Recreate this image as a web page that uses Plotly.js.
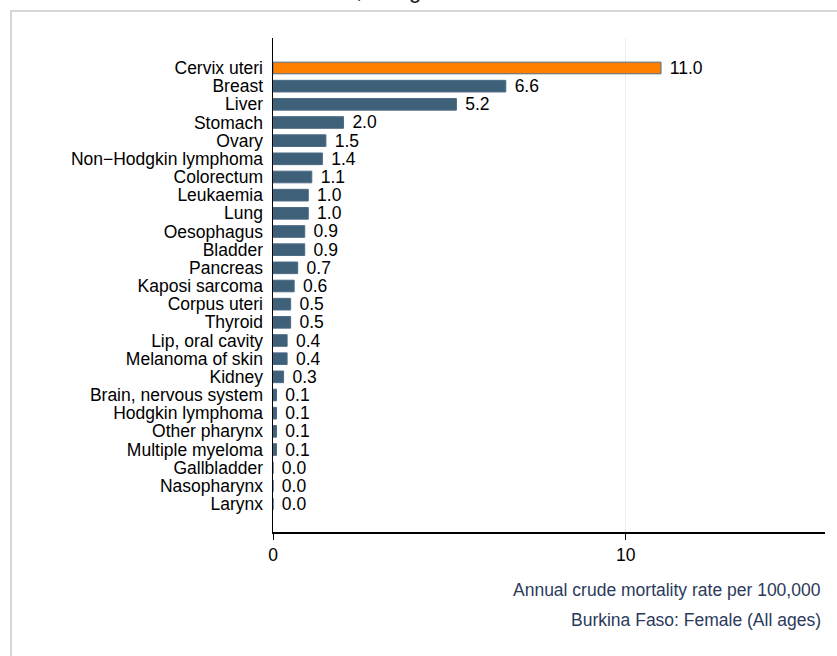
<!DOCTYPE html>
<html>
<head>
<meta charset="utf-8">
<script src="https://cdn.plot.ly/plotly-3.0.1.min.js"></script>
<style>html,body{margin:0;padding:0;background:#fff;}#chart{width:837px;height:656px;}</style>
</head>
<body>
<div id="chart"></div>
<script>
const categories = ["Cervix uteri","Breast","Liver","Stomach","Ovary","Non\u2212Hodgkin lymphoma","Colorectum","Leukaemia","Lung","Oesophagus","Bladder","Pancreas","Kaposi sarcoma","Corpus uteri","Thyroid","Lip, oral cavity","Melanoma of skin","Kidney","Brain, nervous system","Hodgkin lymphoma","Other pharynx","Multiple myeloma","Gallbladder","Nasopharynx","Larynx"];
const values = [11.0,6.6,5.2,2.0,1.5,1.4,1.1,1.0,1.0,0.9,0.9,0.7,0.6,0.5,0.5,0.4,0.4,0.3,0.1,0.1,0.1,0.1,0.0,0.0,0.0];
const highlight = "Cervix uteri";
const xTicks = [0, 10];
const titleText = "Females, all ages in Burkina Faso";
const axisLabel = "Annual crude mortality rate per 100,000";
const subLabel = "Burkina Faso: Female (All ages)";

const L = 273, R = 12, T = 38, B = 124, W = 837, H = 656;
const pw = W - L - R, ph = H - T - B;
const px2x = p => (p - L) / pw;
const py2y = p => 1 - (p - T) / ph;
const FONT = "Liberation Sans, Arial, sans-serif";

const colors = categories.map(c => c === highlight ? "#ff8000" : "#3e6079");
const trace = {
  type: "bar",
  orientation: "h",
  y: categories,
  x: values,
  width: 0.64,
  marker: {color: colors, line: {color: "#4d6b85", width: 1}},
  text: values.map(v => "\u2004" + v.toFixed(1)),
  textposition: "outside",
  constraintext: "none",
  cliponaxis: false,
  textfont: {family: FONT, size: 17.5, color: "#000"},
  hoverinfo: "skip"
};

const layout = {
  width: W, height: H,
  margin: {l: L, r: R, t: T, b: B, pad: 0},
  paper_bgcolor: "#fff", plot_bgcolor: "#fff",
  showlegend: false,
  font: {family: FONT, size: 17.5, color: "#000"},
  xaxis: {
    range: [0, 15.65],
    tickmode: "array",
    tickvals: xTicks,
    ticktext: xTicks.map(String),
    showgrid: true, gridcolor: "#e8eef0", gridwidth: 1,
    zeroline: false,
    showline: true, linecolor: "#000", linewidth: 1.5,
    ticks: "outside", ticklen: 6, tickcolor: "#000", tickwidth: 1,
    tickfont: {family: FONT, size: 17.5, color: "#000"},
    fixedrange: true
  },
  yaxis: {
    type: "category",
    range: [25.54, -1.65],
    tickmode: "array",
    tickvals: categories,
    ticktext: categories,
    showgrid: false, zeroline: false,
    showline: true, linecolor: "#000", linewidth: 1.5,
    ticks: "", ticklabelstandoff: 5,
    tickfont: {family: FONT, size: 17.5, color: "#000"},
    fixedrange: true
  },
  shapes: [{
    type: "rect", xref: "paper", yref: "paper",
    x0: px2x(11), x1: px2x(900), y0: py2y(11), y1: py2y(720),
    line: {color: "#d6d6d6", width: 2}, fillcolor: "rgba(0,0,0,0)", layer: "below"
  }],
  annotations: [
    {text: titleText, xref: "paper", yref: "paper", x: px2x(437), y: py2y(5), xanchor: "center", yanchor: "bottom",
     showarrow: false, font: {family: FONT, size: 22, color: "#222"}},
    {text: axisLabel, xref: "paper", yref: "paper", x: px2x(823), y: py2y(590), xanchor: "right", yanchor: "middle",
     showarrow: false, font: {family: FONT, size: 17.5, color: "#2b3a5c"}},
    {text: subLabel, xref: "paper", yref: "paper", x: px2x(823), y: py2y(620), xanchor: "right", yanchor: "middle",
     showarrow: false, font: {family: FONT, size: 17.5, color: "#2b3a5c"}}
  ]
};

Plotly.newPlot("chart", [trace], layout, {displayModeBar: false, staticPlot: true});
</script>
</body>
</html>
